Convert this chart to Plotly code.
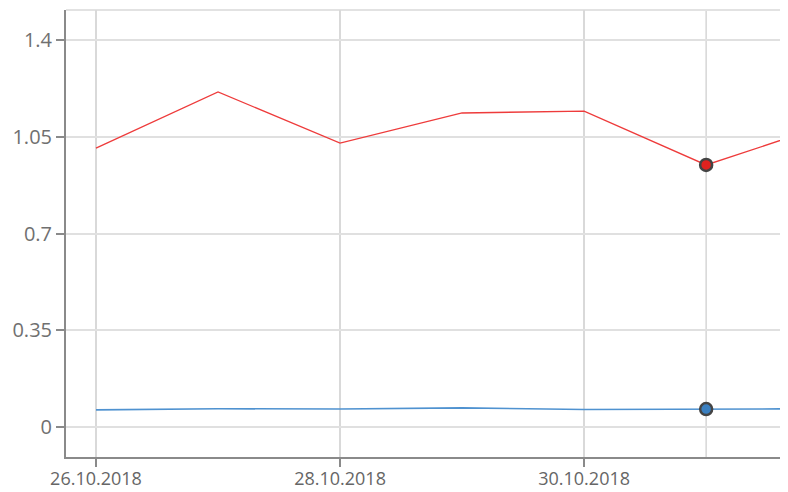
import plotly.graph_objects as go

dates = ["2018-10-26", "2018-10-27", "2018-10-28", "2018-10-29",
         "2018-10-30", "2018-10-31", "2018-11-01"]
red_values = [1.009, 1.212, 1.027, 1.136, 1.143, 0.948, 1.094]
blue_values = [0.062, 0.066, 0.065, 0.069, 0.063, 0.065, 0.066]
y_ticks = [0, 0.35, 0.7, 1.05, 1.4]
y_tick_labels = ["0", "0.35", "0.7", "1.05", "1.4"]
x_ticks = ["2018-10-26", "2018-10-28", "2018-10-30"]
x_tick_labels = ["26.10.2018", "28.10.2018", "30.10.2018"]
hover_date = "2018-10-31"

hi = dates.index(hover_date)
RED = "#ee3b3b"
BLUE = "#4f92d0"

fig = go.Figure()
fig.add_trace(go.Scatter(x=dates, y=red_values, mode="lines",
                         line=dict(color=RED, width=1.3), hoverinfo="skip"))
fig.add_trace(go.Scatter(x=dates, y=blue_values, mode="lines",
                         line=dict(color=BLUE, width=1.6), hoverinfo="skip"))

# hover crosshair
fig.add_shape(type="line", xref="x", yref="paper", x0=hover_date, x1=hover_date,
              y0=0, y1=1, line=dict(color="#d6d6d6", width=1.5), layer="below")
# top and right frame
fig.add_shape(type="line", xref="paper", yref="paper", x0=0, x1=1, y0=1, y1=1,
              line=dict(color="#e2e2e2", width=2), layer="below")
fig.add_shape(type="line", xref="paper", yref="paper", x0=1, x1=1, y0=0, y1=1,
              line=dict(color="#dcdcdc", width=2), layer="below")

fig.add_trace(go.Scatter(x=[dates[hi]], y=[red_values[hi]], mode="markers",
                         marker=dict(color="#e0221f", size=12,
                                     line=dict(color="#444444", width=2.5)),
                         hoverinfo="skip"))
fig.add_trace(go.Scatter(x=[dates[hi]], y=[blue_values[hi]], mode="markers",
                         marker=dict(color="#3a7fc0", size=12,
                                     line=dict(color="#444444", width=2.5)),
                         hoverinfo="skip"))

fig.update_layout(
    width=780, height=484,
    margin=dict(l=58, r=5, t=2, b=35, pad=0),
    paper_bgcolor="white", plot_bgcolor="white",
    showlegend=False,
    xaxis=dict(
        range=["2018-10-25 18:06", "2018-10-31 15:07"],
        tickvals=x_ticks, ticktext=x_tick_labels,
        showgrid=True, gridcolor="#d9d9d9", gridwidth=1.5,
        showline=True, linecolor="#8a8a8a", linewidth=2,
        ticks="outside", ticklen=8, tickcolor="#8a8a8a", tickwidth=1.5,
        tickfont=dict(family="Open Sans", size=18, color="#666666"),
        ticklabelstandoff=-4,
        zeroline=False, automargin=False,
    ),
    yaxis=dict(
        range=[-0.1086, 1.5086],
        tickvals=y_ticks, ticktext=y_tick_labels,
        showgrid=True, gridcolor="#e0e0e0", gridwidth=2,
        showline=True, linecolor="#8a8a8a", linewidth=2,
        ticks="outside", ticklen=8, tickcolor="#8a8a8a", tickwidth=1.5,
        tickfont=dict(family="Open Sans", size=20, color="#707070"),
        zeroline=False, automargin=False,
    ),
)

fig.write_html("out.html")
